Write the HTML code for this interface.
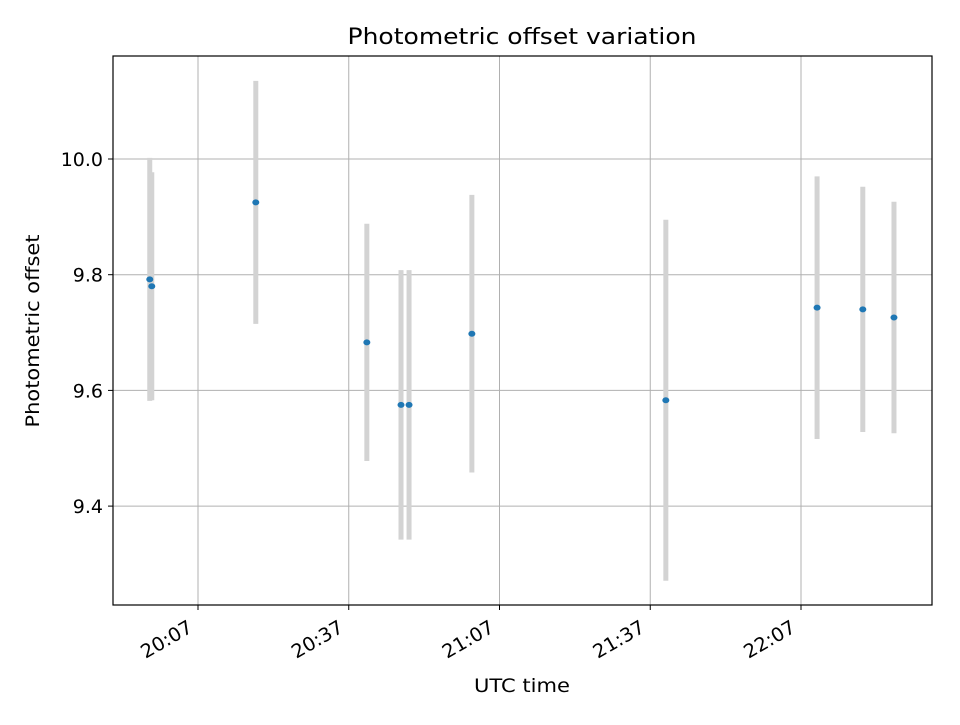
<!DOCTYPE html>
<html><head><meta charset="utf-8"><style>
body{margin:0;background:#fff}
svg{font-family:"DejaVu Sans","Liberation Sans",sans-serif}
</style></head><body>
<svg id="chart" width="960" height="720" xmlns="http://www.w3.org/2000/svg">
<text x="522" y="44" font-size="22" text-anchor="middle" textLength="349" lengthAdjust="spacingAndGlyphs">Photometric offset variation</text>
<g id="grid"></g>
<g id="bars"></g>
<g id="pts"></g>
<rect x="113" y="56" width="819" height="549" fill="none" stroke="#000" stroke-width="1.2"/>
<g id="axes"></g>
<text x="522" y="692" font-size="19" text-anchor="middle" textLength="96" lengthAdjust="spacingAndGlyphs">UTC time</text>
<text transform="translate(39,331) rotate(-90)" font-size="19" text-anchor="middle" textLength="193" lengthAdjust="spacingAndGlyphs">Photometric offset</text>
</svg>
<script>
const times=["19:57.4","19:57.8","20:18.5","20:40.6","20:47.4","20:49.0","21:01.5","21:40.1","22:10.2","22:19.3","22:25.5"];
const offsets=[9.792,9.780,9.925,9.683,9.575,9.575,9.698,9.583,9.743,9.740,9.726];
const errors=[0.21,0.197,0.21,0.205,0.233,0.233,0.24,0.312,0.227,0.212,0.2];
const xTickLabels=["20:07","20:37","21:07","21:37","22:07"];
const yTicks=[9.4,9.6,9.8,10.0];
const NS="http://www.w3.org/2000/svg";
function mins(s){const[h,m]=s.split(":");return +h*60+parseFloat(m);}
const t0=mins("20:07");
function X(m){return 198+(m-t0)*5.025;}
function Y(v){return 159+(10-v)*578.5;}
function mk(tag,attrs,parent){const e=document.createElementNS(NS,tag);for(const k in attrs)e.setAttribute(k,attrs[k]);document.getElementById(parent).appendChild(e);return e;}
xTickLabels.forEach(l=>{const x=X(mins(l));
 let g=mk("line",{x1:x,x2:x,y1:56,y2:605,stroke:"#b0b0b0","stroke-width":1},"grid");
 
 let t=mk("line",{x1:x,x2:x,y1:605,y2:610,stroke:"#000"},"axes");
 
 const px=x-4,py=631;
 let tx=mk("text",{x:px,y:py,"font-size":19,"text-anchor":"end",textLength:56,lengthAdjust:"spacingAndGlyphs",transform:`rotate(-30 ${px} ${py})`},"axes");
 tx.textContent=l;
});
yTicks.forEach(v=>{const y=Y(v);
 let g=mk("line",{x1:113,x2:932,y1:y,y2:y,stroke:"#b0b0b0","stroke-width":1},"grid");
 
 let t=mk("line",{x1:108,x2:113,y1:y,y2:y,stroke:"#000"},"axes");
 
 let tx=mk("text",{x:103,y:y+7,"font-size":19,"text-anchor":"end"},"axes");
 tx.textContent=v.toFixed(1);
});
times.forEach((s,i)=>{const x=X(mins(s));
 let b=mk("line",{x1:x,x2:x,y1:Y(offsets[i]+errors[i]),y2:Y(offsets[i]-errors[i]),stroke:"#d3d3d3","stroke-width":5},"bars");
 
});
times.forEach((s,i)=>{
 let p=mk("ellipse",{cx:X(mins(s)),cy:Y(offsets[i]),rx:3.5,ry:3,fill:"#1f77b4"},"pts");
 
});
</script>
</body></html>
